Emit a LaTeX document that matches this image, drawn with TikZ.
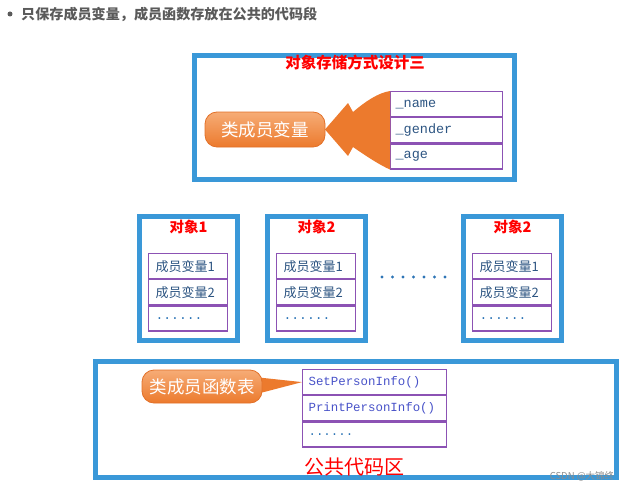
\documentclass[tikz,border=0pt]{standalone}
\usepackage{fontspec}
\setmainfont{Noto Sans CJK SC}
\setmonofont{Liberation Mono}
\usetikzlibrary{positioning}

\definecolor{boxblue}{RGB}{58,152,216}
\definecolor{cellpurple}{RGB}{140,82,180}
\definecolor{btnorange}{RGB}{236,122,45}
\definecolor{btnlight}{RGB}{246,172,118}
\definecolor{btnedge}{RGB}{226,112,40}
\definecolor{txtblue}{RGB}{45,85,130}
\definecolor{fnblue}{RGB}{72,82,200}
\definecolor{dotblue}{RGB}{46,117,182}
\definecolor{titlegray}{RGB}{90,90,90}

\tikzset{
  outer/.style={draw=boxblue, line width=5pt},
  cell/.style={draw=cellpurple, line width=1.2pt, minimum height=25pt,
    inner ysep=0pt, align=left, anchor=north west},
  varcell/.style={cell, text width=102pt, inner xsep=5pt, text=txtblue,
    font=\ttfamily\fontsize{13.5}{15}\selectfont},
  objcell/.style={cell, text width=65pt, inner xsep=7pt, text=txtblue,
    font=\fontsize{13}{15}\selectfont},
  fncell/.style={cell, text width=132pt, inner xsep=6pt, text=fnblue,
    font=\ttfamily\fontsize{12.4}{14}\selectfont},
  button/.style={rounded corners=12pt, top color=btnlight, bottom color=btnorange,
    draw=btnedge, line width=0.8pt, text=white, inner sep=0pt,
    font=\fontsize{17.5}{20}\selectfont},
  redtitle/.style={text=red, font=\bfseries\fontsize{14.5}{16}\selectfont},
}

\newcommand{\dotsx}{\textcolor{dotblue}{\ttfamily......}}

\begin{document}
\begin{tikzpicture}[x=1pt, y=-1pt]
    \useasboundingbox (0,0) rectangle (629,487);

    % 标题
    \fill[titlegray] (10,14) circle (2.5);
    \node[anchor=west, text=titlegray, inner sep=0pt,
      font=\bfseries\fontsize{14.1}{16}\selectfont] (head) at (21,14)
      {只保存成员变量，成员函数存放在公共的代码段};

    % 对象存储方式设计三
    \draw[outer] (194.5,55.5) rectangle (514.5,179.5);
    \node[redtitle, font=\bfseries\fontsize{15.5}{17}\selectfont] (design) at (355,63) {对象存储方式设计三};

    \node[varcell] (tname) at (390,91) {\_name};
    \node[varcell, below=0pt of tname] (tgender) {\_gender};
    \node[varcell, below=0pt of tgender] (tage) {\_age};

    % 大箭头
    \fill[btnorange] (325,129.5) -- (348,103) -- (353,112)
      .. controls (366,101) and (378,93) .. (tname.north west)
      -- (tage.south west)
      .. controls (378,164) and (366,156) .. (353,147)
      -- (348,156) -- cycle;
    \node[button, minimum width=120pt, minimum height=35pt] (mvar) at (265,129.5) {类成员变量};

    % 对象1, 对象2, ..., 对象2
    \foreach \x/\n/\nm in {137/1/oa, 265/2/ob, 461/2/oc}{
        \draw[outer] (\x+2.5,216.5) rectangle ++(98,124);
        \node[redtitle] (\nm) at (\x+51.5,227) {对象\n};
        \node[objcell] (\nm1) at (\x+11,253) {成员变量1};
        \node[objcell, below=0pt of \nm1] (\nm2) {成员变量2};
        \node[objcell, below=0pt of \nm2] (\nm3) {\dotsx};
    }
    \foreach \i in {0,...,6}
        \fill[dotblue] (382+10.5*\i,277) circle (1.6);

    % 公共代码区
    \draw[outer] (95.5,361.5) rectangle (616.5,477.5);
    \node[fncell] (tset) at (302,369) {SetPersonInfo()};
    \node[fncell, below=0pt of tset] (tprint) {PrintPersonInfo()};
    \node[fncell, below=0pt of tprint] (tmore) {\dotsx};

    \fill[btnorange] (245,376) -- (tset.west) -- (245,397) -- cycle;
    \node[button, minimum width=120pt, minimum height=33pt] (fn) at (202,386.5) {类成员函数表};

    \node[text=red, font=\fontsize{20}{22}\selectfont, inner sep=0pt] (code) at (354,467) {公共代码区};

    % 水印
    \node[text=black!45, font=\fontsize{9.5}{10}\selectfont, inner sep=0pt] (mark) at (582,476) {CSDN @大锦终};
\end{tikzpicture}
\end{document}
